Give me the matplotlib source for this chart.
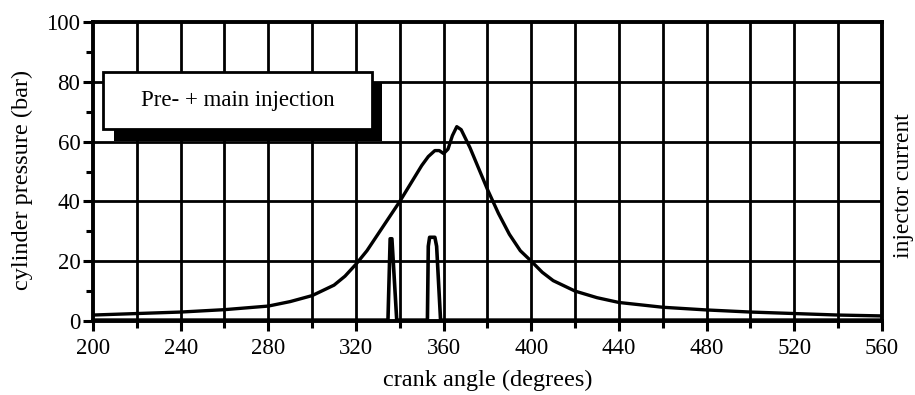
import numpy as np
import matplotlib.pyplot as plt
from matplotlib.patches import Rectangle

plt.rcParams['font.family'] = ['Liberation Serif', 'DejaVu Serif']

# cylinder pressure trace (bar)
angle = [200, 220, 240, 260, 280, 290, 300, 310, 315, 320, 325, 330, 335, 340, 345,
         350, 353, 356, 358, 360, 362, 364, 366, 368, 372, 376, 380, 385, 390,
         395, 400, 405, 410, 420, 430, 440, 460, 480, 500, 520, 540, 560]
pressure = [2.0, 2.5, 3.0, 3.8, 5.0, 6.5, 8.5, 12.0, 15.0, 19, 23.5, 29, 34.5, 40, 46,
            52, 55, 57, 57, 56, 57.5, 62, 65, 64, 58, 51, 44, 36, 29,
            23.5, 20, 16.3, 13.5, 10, 7.8, 6.2, 4.6, 3.7, 3.0, 2.5, 2.0, 1.7]

# injector current (arbitrary units, drawn on the same scale)
cur_angle = [200, 334.6, 335.6, 336.4, 338.6, 352.6, 353.0, 353.6, 356.0, 356.8, 358.6, 560]
current = [0.3, 0.3, 27.5, 27.5, 0.3, 0.3, 25, 28, 28, 25, 0.3, 0.3]

xticks = np.arange(200, 561, 40)
yticks = np.arange(0, 101, 20)

fig = plt.figure(figsize=(9.15, 3.95), dpi=100)
ax = fig.add_axes([0.1016, 0.1873, 0.8623, 0.757])

ax.plot(angle, pressure, color='black', lw=2.4, solid_capstyle='round', zorder=4)
ax.plot(cur_angle, current, color='black', lw=2.6, zorder=4)

ax.set_xlim(200, 560)
ax.set_ylim(0, 100)
ax.set_xticks(xticks)
ax.set_xticks(np.arange(200, 561, 20), minor=True)
ax.set_yticks(yticks)
ax.set_yticks(np.arange(0, 101, 10), minor=True)
ax.tick_params(which='major', direction='out', length=7, width=2.2, labelsize=16.5, color='black')
ax.tick_params(which='minor', direction='out', length=5, width=2.2, color='black')
ax.tick_params(axis='x', pad=5)
ax.tick_params(axis='y', pad=2)

for x in np.arange(220, 560, 20):
    ax.axvline(x, color='black', lw=2.0, zorder=1)
for y in np.arange(20, 100, 20):
    ax.axhline(y, color='black', lw=2.0, zorder=1)

for s in ax.spines.values():
    s.set_linewidth(2.8)

ax.set_xlabel('crank angle (degrees)', fontsize=17.5, labelpad=8)
fig.text(0.025, 0.545, 'cylinder pressure (bar)', rotation=90, fontsize=17.5,
         ha='center', va='center')
fig.text(0.987, 0.53, 'injector current', rotation=90, fontsize=17,
         ha='center', va='center')

# label box with drop shadow
ax.add_patch(Rectangle((209.5, 60.3), 122.5, 19.5, facecolor='black', edgecolor='none', zorder=5))
ax.add_patch(Rectangle((204.8, 64.2), 122.5, 19.2, facecolor='white', edgecolor='black', lw=2.0, zorder=6))
ax.text(266, 73.8, 'Pre- + main injection', fontsize=16.5, ha='center', va='center', zorder=7)

fig.savefig('out.png', dpi=100)
